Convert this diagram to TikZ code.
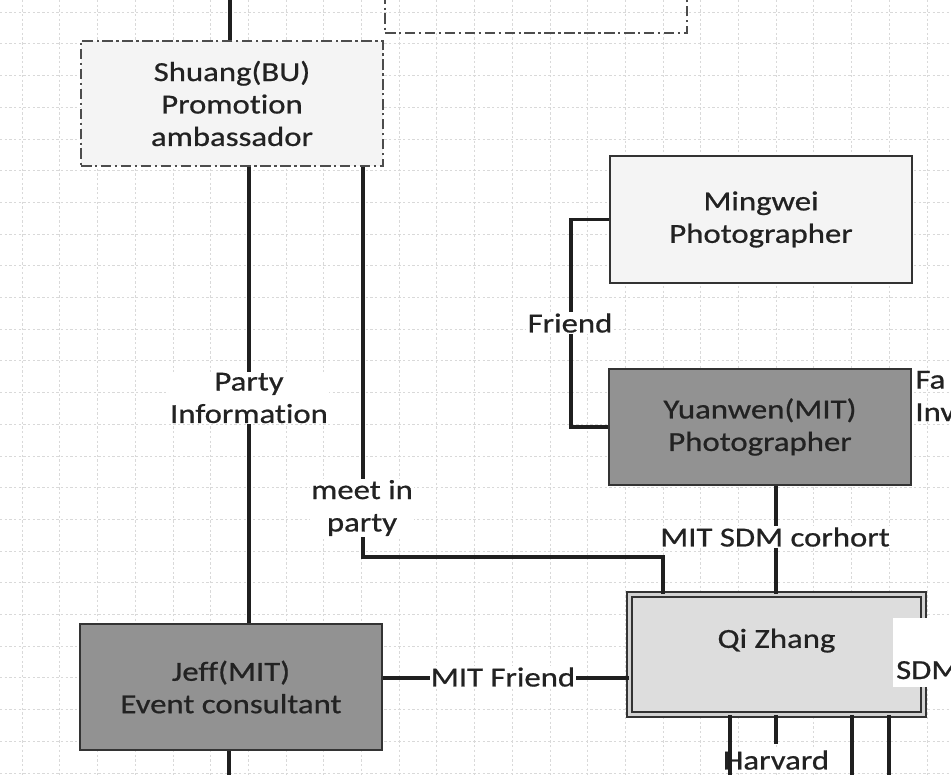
\documentclass[tikz,border=0pt]{standalone}
\usepackage{fontspec}
\setmainfont{Carlito}[FakeStretch=1.19,FakeBold=0.7,Ligatures=NoCommon]
\definecolor{boxdark}{HTML}{929292}
\definecolor{boxmid}{HTML}{DDDDDD}
\definecolor{boxlight}{HTML}{F4F4F4}
\definecolor{inkdark}{HTML}{222222}
\definecolor{gridgray}{HTML}{D9D9D9}

\begin{document}
\begin{tikzpicture}[x=0.03cm,y=-0.03cm,
  conn/.style={line width=3.2pt,black!88},
  box/.style={draw=black!80,line width=1.5pt,minimum width=9.06cm,align=center,
    inner sep=0pt,text=inkdark,font=\fontsize{23.5}{27.7}\selectfont},
  dashbox/.style={draw=black!70,line width=1.1pt,dash pattern=on 9pt off 3pt on 2pt off 3pt},
  lbl/.style={fill=white,align=center,inner sep=1pt,text=inkdark,
    font=\fontsize{23.5}{27.7}\selectfont},
  gridline/.style={gridgray,line width=0.5pt,dash pattern=on 2pt off 2pt}]
\useasboundingbox (0,0) rectangle (951,775);
\clip (0,0) rectangle (951,775);
\fill[white] (0,0) rectangle (951,775);
% background grid
\foreach \i in {0,...,25}
  \draw[gridline] (22+37.7*\i,0) -- (22+37.7*\i,775);
\foreach \j in {0,...,24}
  \draw[gridline] (0,12+31.7*\j) -- (951,12+31.7*\j);

% boxes
\node[box,dashbox,minimum height=3.78cm] (upper) at (536,-30) {};
\node[box,dashbox,fill=boxlight,minimum height=3.75cm] (shuang) at (232,103.5)
  {Shuang(BU)\\Promotion\\ambassador};
\node[box,fill=boxlight,minimum height=3.81cm] (mingwei) at (761,219.5)
  {Mingwei\\Photographer};
\node[box,fill=boxdark,minimum height=3.48cm] (yuanwen) at (760,427)
  {Yuanwen(MIT)\\Photographer};
\node[box,fill=boxmid,line width=1.4pt,double=gray!35,double distance=2.8pt,
  minimum width=8.82cm,minimum height=3.585cm] (qi) at (776.5,654.5)
  {Qi Zhang\\\mbox{}};
\node[box,fill=boxdark,minimum height=3.78cm] (jeff) at (231,687)
  {Jeff(MIT)\\Event consultant};

% free ends and bend points
\coordinate (topin) at (230,0);
\coordinate (xparty) at (249,0);
\coordinate (xmeet) at (363,557);
\coordinate (xqi) at (663,0);
\coordinate (xfriend) at (571,0);
\coordinate (xsdm) at (776,0);
\coordinate (yfriend) at (0,678);
\coordinate (jout) at (229,775);
\coordinate (qoutA) at (730,775);
\coordinate (qoutB) at (776,744);
\coordinate (qoutC) at (852,775);
\coordinate (qoutD) at (889,775);

% label below Qi Zhang (lines run over it)
\node[lbl] (harvard) at (776,760) {Harvard};

% connectors
\draw[conn] (topin) -- (topin |- shuang.north);
\draw[conn] (xparty |- shuang.south) -- (xparty |- jeff.north);
\draw[conn] (xmeet |- shuang.south) -- (xmeet) -| (xqi |- qi.north);
\draw[conn] (mingwei.west) -- (xfriend |- mingwei.west) -- (xfriend |- yuanwen.west)
  -- (yuanwen.west);
\draw[conn] (xsdm |- yuanwen.south) -- (xsdm |- qi.north);
\draw[conn] (jeff.east |- yfriend) -- (qi.west |- yfriend);
\draw[conn] (jeff.south -| jout) -- (jout);
\foreach \q in {qoutA,qoutB,qoutC,qoutD}
  \draw[conn] (qi.south -| \q) -- (\q);

% connector labels
\node[lbl] (partyinfo) at (249,398) {Party\\Information};
\node[lbl] (meetparty) at (362,508) {meet in\\party};
\node[lbl] (friend) at (570,323) {Friend};
\node[lbl] (sdmcohort) at (775,537) {MIT SDM corhort};
\node[lbl] (mitfriend) at (503,677) {MIT Friend};
\node[lbl,fill=none,anchor=west,align=left] (yuanside) at (914,396) {Fa\\Inv};
\node[lbl,anchor=base west,inner sep=0pt,inner xsep=2.5pt,text height=1.83cm,
  text depth=0.24cm] (sdmside) at (893,679) {SDM};
\end{tikzpicture}
\end{document}
